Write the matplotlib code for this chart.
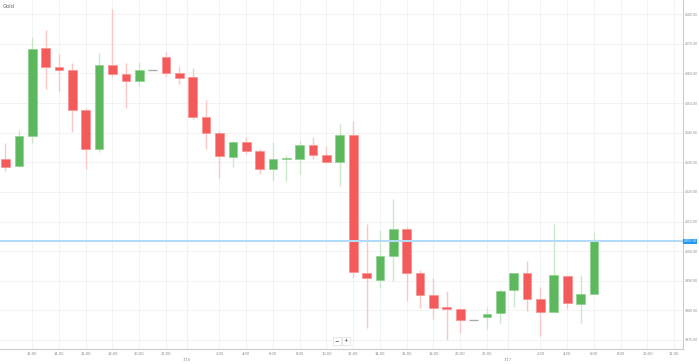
import matplotlib
matplotlib.use('Agg')
import matplotlib.pyplot as plt
import matplotlib.dates as mdates
import pandas as pd
import numpy as np

# hourly gold candles, 7/15 10:00 -> 7/17 6:00
times = pd.date_range('2025-07-15 10:00', periods=45, freq='h')
opens = [4031.0, 4028.7, 4039.0, 4068.5, 4062.3, 4061.2, 4047.5, 4034.4, 4062.8, 4059.8,
         4057.5, 4061.2, 4065.4, 4060.1, 4058.7, 4045.2, 4039.8, 4031.9, 4036.9, 4033.8,
         4027.9, 4031.1, 4031.1, 4036.0, 4032.3, 4030.1, 4039.1, 3992.6, 3990.3, 3998.4,
         4007.5, 3992.7, 3985.3, 3981.0, 3980.6, 3976.9, 3977.9, 3979.0, 3986.8, 3992.5,
         3984.0, 3979.5, 3991.7, 3982.1, 3985.6]
highs = [4036.6, 4040.9, 4072.2, 4074.7, 4066.6, 4063.5, 4048.4, 4066.8, 4081.7, 4063.5,
         4063.8, 4061.2, 4067.3, 4062.5, 4061.7, 4051.0, 4040.7, 4037.3, 4038.6, 4034.6,
         4036.9, 4032.3, 4037.3, 4038.4, 4035.5, 4043.1, 4044.0, 4009.0, 4007.1, 4017.5,
         4008.2, 3993.6, 3991.0, 3986.6, 3980.7, 3976.9, 3981.0, 3987.1, 3992.5, 3996.6,
         3987.9, 4009.2, 3991.7, 3991.9, 4006.4]
lows = [4027.1, 4028.5, 4036.6, 4054.7, 4054.2, 4040.3, 4027.6, 4033.5, 4058.9, 4048.5,
        4055.8, 4061.2, 4059.0, 4056.3, 4044.5, 4034.6, 4024.8, 4028.3, 4032.8, 4025.9,
        4023.8, 4023.8, 4026.0, 4031.1, 4029.6, 4022.0, 3991.0, 3974.2, 3987.7, 3990.0,
        3983.0, 3980.7, 3977.0, 3969.9, 3972.5, 3976.9, 3973.8, 3975.8, 3981.2, 3979.8,
        3971.3, 3979.5, 3980.6, 3975.9, 3985.6]
closes = [4028.5, 4039.0, 4068.2, 4062.3, 4061.0, 4047.5, 4034.4, 4062.8, 4059.8, 4057.5,
          4061.1, 4061.2, 4060.2, 4058.5, 4045.2, 4039.8, 4032.1, 4036.9, 4033.8, 4027.8,
          4031.1, 4031.3, 4035.8, 4032.3, 4030.2, 4039.1, 3992.8, 3990.9, 3998.5, 4007.5,
          3992.5, 3985.2, 3980.8, 3980.4, 3976.9, 3976.9, 3978.8, 3986.5, 3992.5, 3983.8,
          3979.6, 3991.9, 3982.4, 3985.5, 4003.3]
price_levels = [3970, 3980, 3990, 4000, 4010, 4020, 4030, 4040, 4050, 4060, 4070, 4080]
current = closes[-1]

red, green, gray = '#f55a5a', '#5cb85c', '#aaaaaa'
red_w, green_w = '#fbc6c6', '#c9e8c9'

fig = plt.figure(figsize=(6.99, 3.64), dpi=100)
ax = fig.add_axes([0, 1 - 349 / 364, 682.5 / 699, 349 / 364])

x = mdates.date2num(times)
hour = 1 / 24
o, h, l, c = map(np.array, (opens, highs, lows, closes))
up = c > o
down = c < o
flat = c == o

wick_cols = np.where(up, green_w, np.where(down, red_w, gray))
ax.vlines(x, l, h, colors=wick_cols, lw=1.0, zorder=2)

w = 0.65 * hour
ax.bar(x[up], (c - o)[up], bottom=o[up], width=w, color=green, edgecolor='#8fd08f', lw=0.5, zorder=3)
ax.bar(x[down], (o - c)[down], bottom=c[down], width=w, color=red, edgecolor='#f89090', lw=0.5, zorder=3)
ax.hlines(c[flat], x[flat] - w / 2, x[flat] + w / 2, colors=gray, lw=1.0, zorder=3)

# x axis: every 2 hours, date labels near midnight
start = times[0]
ticks, labels = [], []
for k in range(2, 51, 2):
    t = start + pd.Timedelta(hours=k)
    if t.hour == 0:
        ticks.append(mdates.date2num(t - pd.Timedelta(minutes=27)))
        labels.append('\n%d/%d' % (t.month, t.day))
    else:
        ticks.append(mdates.date2num(t))
        labels.append('%d:00' % t.hour)
ax.set_xticks(ticks)
ax.set_xticklabels(labels, fontsize=2.6, color='#888888', linespacing=1.6)
ax.set_xlim(mdates.date2num(start - pd.Timedelta(hours=0.41)),
            mdates.date2num(start + pd.Timedelta(hours=50.62)))

ax.set_ylim(3966.96, 4084.8)
ax.yaxis.tick_right()
ax.set_yticks(price_levels)
ax.set_yticklabels(['%.2f' % v for v in price_levels], fontsize=2.25, color='#888888')
ax.tick_params(axis='x', length=0, pad=2.5)
ax.tick_params(axis='y', length=0, pad=1.6)

ax.grid(True, color='#f3f3f3', lw=0.7, zorder=0)
for lab_pos, lab in zip(ticks, labels):
    if lab.startswith('\n'):
        ax.axvline(lab_pos, color='#e4e4e4', lw=0.8, zorder=0)

for side in ['top', 'left']:
    ax.spines[side].set_visible(False)
for side in ['right', 'bottom']:
    ax.spines[side].set_color('#cccccc')
    ax.spines[side].set_linewidth(0.8)

# current price
ax.axhline(current, color='#b3dbf7', lw=1.5, zorder=4)
ax.text(1.002, current, '%.2f' % current, transform=ax.get_yaxis_transform(),
        fontsize=2.25, color='white', va='center', ha='left', clip_on=False,
        bbox=dict(boxstyle='square,pad=0.2', fc='#2196f3', ec='none'))

ax.text(3 / 682.5, 1 - 7 / 349, 'Gold', transform=ax.transAxes, fontsize=3.8,
        color='#666666', va='center', ha='left')

# zoom buttons
for bx, s in [(337, '\u2212'), (346, '+')]:
    ax.text(bx / 682.5, 1 - 341 / 349, s, transform=ax.transAxes, fontsize=4,
            color='#444444', va='center', ha='center',
            bbox=dict(boxstyle='square,pad=0.3', fc='white', ec='#dddddd', lw=0.5))

fig.savefig('out.png', dpi=100)
